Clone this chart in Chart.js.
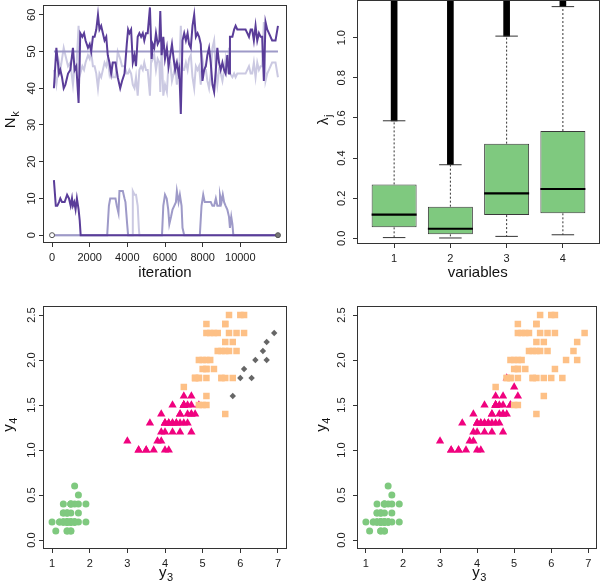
<!DOCTYPE html>
<html><head><meta charset="utf-8">
<script src="https://cdn.jsdelivr.net/npm/chart.js@4/dist/chart.umd.min.js"></script>
<style>
html,body{margin:0;padding:0;background:#fff;width:602px;height:585px;overflow:hidden;position:relative}
canvas{position:absolute}
</style></head><body>
<canvas id="c1" width="301" height="292" style="left:0;top:0"></canvas>
<canvas id="c2" width="301" height="292" style="left:301px;top:0"></canvas>
<canvas id="c3" width="301" height="293" style="left:0;top:292px"></canvas>
<canvas id="c4" width="301" height="293" style="left:301px;top:292px"></canvas>
<script>
// ---------- Panel 1: N_k traces ----------
const iterDark = [100,230,370,440,530,620,710,850,970,1110,1200,1290,1410,1500,1610,1700,1780,1910,2000,2080,2170,2260,2350,2440,2520,2610,2700,2790,2880,2960,3050,3140,3230,3370,3490,3620,3720,3850,3970,4040,4110,4200,4290,4380,4460,4550,4640,4730,4820,4900,4990,5080,5200,5290,5350,5430,5520,5610,5700,5750,5820,5910,6000,6100,6190,6280,6370,6460,6540,6630,6720,6760,6840,6930,7020,7110,7200,7280,7370,7460,7550,7640,7730,7810,7900,7990,8080,8170,8250,8340,8430,8520,8610,8700,8780,8870,8960,9050,9140,9220,9310,9400,9450,9580,9670,9750,9840,9930,10020,10110,10190,10280,10370,10460,10550,10630,10720,10810,10900,10990,11080,11160,11250,11340,11430,11520,11690,11780,11870,12000];
const nDark = [40,51,44,45,43,40,41,44,45,51,45,46,36,55,54,55,53,51,52,50,54,54,56,60,56,57,55,53,54,49,47,44,47,47,43,40,42,44,52,56,55,56,47,49,46,54,55,54,55,53,55,55,62,48,52,51,55,52,53,61,49,54,48,51,46,49,52,48,45,47,44,45,33,53,55,53,55,52,51,57,60,54,55,54,52,42,45,46,49,51,47,41,39,45,51,47,45,47,45,44,49,44,54,54,56,57,56,56,56,56,56,56,55,54,56,56,53,57,53,55,54,54,42,58,56,55,53,53,53,57];
const nLight = [45,41,47,45,48,51,49,46,47,41,46,45,57,44,46,45,47,49,48,50,46,46,44,40,44,43,45,47,46,48,44,46,43,43,50,48,46,46,44,44,45,44,41,40,43,38,45,46,45,47,45,45,38,52,48,49,45,48,47,39,51,38,41,39,47,47,42,44,46,41,47,45,57,45,45,47,45,48,49,43,40,46,45,46,41,48,45,45,42,40,44,51,53,45,41,45,44,42,45,48,44,51,44,43,44,43,44,44,44,44,44,44,45,46,44,44,47,43,47,45,46,46,58,42,44,45,47,47,47,43];
const iterFifty = [100,12000];
const nFifty = [50,50];
const iterDarkLow = [100,200,280,370,440,530,670,800,900,990,1060,1110,1180,1250,1320,1410,1470,1520,12000];
const nDarkLow = [15,8,8,9,10,9,9,11,10,8,10,8,9,7,10,7,4,0,0];
const iterMid = [100,2930,3020,3090,3230,3370,3440,3530,3580,3670,3760,3850,3900,3990,4040,5840,5910,6000,6090,6170,6230,6320,6400,6490,6580,6630,6720,6790,6880,6930,7020,7850,7940,8030,8110,8250,8430,8520,8610,8700,8780,8870,8920,9000,9070,9140,9220,9310,9400,9450,9520,9580,9630,12000];
const nMid = [0,0,8,10,10,10,8,6,12,12,12,10,9,3,0,0,8,11,10,7,3,5,7,8,9,12,9,11,8,2,0,0,8,11,9,9,9,8,8,10,8,8,11,9,11,9,8,7,5,2,5,3,0,0];
const iterLightBump = [100,4250,4290,4380,4460,4550,4610,4640,12000];
const nLightBump = [0,0,12,11,11,8,2,0,0];
const iterEnds = [0,12000];
const nEnds = [0,0];
const iterTicks = [0,2000,4000,6000,8000,10000];
const nkTicks = [0,10,20,30,40,50,60];

// ---------- Panel 2: boxplots of lambda_j ----------
const boxVars = [1,2,3,4];
const boxLo  = [0.004,0.002,0.010,0.018];
const boxQ1  = [0.055,0.020,0.116,0.125];
const boxMed = [0.118,0.048,0.224,0.246];
const boxQ3  = [0.269,0.158,0.472,0.535];
const boxHi  = [0.586,0.367,1.008,1.155];
const outHi  = [1.25,1.25,1.25,1.25];
const lamTicks = [0,0.2,0.4,0.6,0.8,1.0];
const lamTickLabels = ['0.0','0.2','0.4','0.6','0.8','1.0'];

// ---------- Panels 3/4: iris petal length (y3) vs width (y4) ----------
const setLen = [1.4,1.4,1.3,1.5,1.4,1.7,1.4,1.5,1.4,1.5,1.5,1.6,1.4,1.1,1.2,1.5,1.3,1.4,1.7,1.5,1.7,1.5,1.0,1.7,1.9,1.6,1.6,1.5,1.4,1.6,1.6,1.5,1.5,1.4,1.5,1.2,1.3,1.4,1.3,1.5,1.3,1.3,1.3,1.6,1.9,1.4,1.6,1.4,1.5,1.4];
const setWid = [0.2,0.2,0.2,0.2,0.2,0.4,0.3,0.2,0.2,0.1,0.2,0.2,0.1,0.1,0.2,0.4,0.4,0.3,0.3,0.3,0.2,0.4,0.2,0.5,0.2,0.2,0.4,0.2,0.2,0.2,0.2,0.4,0.1,0.2,0.2,0.2,0.2,0.1,0.2,0.2,0.3,0.3,0.2,0.6,0.4,0.3,0.2,0.2,0.2,0.2];
const versLen = [4.7,4.5,4.9,4.0,4.6,4.5,4.7,3.3,4.6,3.9,3.5,4.2,4.0,4.7,3.6,4.4,4.5,4.1,4.5,3.9,4.8,4.0,4.9,4.7,4.3,4.4,4.8,5.0,4.5,3.5,3.8,3.7,3.9,5.1,4.5,4.5,4.7,4.4,4.1,4.0,4.4,4.6,4.0,3.3,4.2,4.2,4.2,4.3,3.0,4.1];
const versWid = [1.4,1.5,1.5,1.3,1.5,1.3,1.6,1.0,1.3,1.4,1.0,1.5,1.0,1.4,1.3,1.4,1.5,1.0,1.5,1.1,1.8,1.3,1.5,1.2,1.3,1.4,1.4,1.7,1.5,1.0,1.1,1.0,1.2,1.6,1.5,1.6,1.5,1.3,1.3,1.3,1.2,1.4,1.2,1.0,1.3,1.2,1.3,1.3,1.1,1.3];
const virgLen = [6.0,5.1,5.9,5.6,5.8,6.6,4.5,6.3,5.8,6.1,5.1,5.3,5.5,5.0,5.1,5.3,5.5,6.7,6.9,5.0,5.7,4.9,6.7,4.9,5.7,6.0,4.8,4.9,5.6,5.8,6.1,6.4,5.6,5.1,5.6,6.1,5.6,5.5,4.8,5.4,5.6,5.1,5.1,5.9,5.7,5.2,5.0,5.2,5.4,5.1];
const virgWid = [2.5,1.9,2.1,1.8,2.2,2.1,1.7,1.8,1.8,2.5,2.0,1.9,2.1,2.0,2.4,2.3,1.8,2.2,2.3,1.5,2.3,2.0,2.0,1.8,2.1,1.8,1.8,1.8,2.1,1.6,1.9,2.0,2.2,1.5,1.4,2.3,2.4,1.8,1.8,2.1,2.4,2.3,1.9,2.3,2.5,2.3,1.9,2.0,2.3,1.8];
// left panel: estimated cluster allocation
const leftTriLen = [4.7,4.5,4.0,4.6,4.5,4.7,3.3,4.6,3.9,3.5,4.2,4.0,4.7,3.6,4.4,4.5,4.1,4.5,3.9,4.0,4.9,4.7,4.3,4.4,4.8,4.5,3.5,3.8,3.7,3.9,4.5,4.5,4.7,4.4,4.1,4.0,4.4,4.6,4.0,3.3,4.2,4.2,4.2,4.3,3.0,4.1];
const leftTriWid = [1.4,1.5,1.3,1.5,1.3,1.6,1.0,1.3,1.4,1.0,1.5,1.0,1.4,1.3,1.4,1.5,1.0,1.5,1.1,1.3,1.5,1.2,1.3,1.4,1.4,1.5,1.0,1.1,1.0,1.2,1.5,1.6,1.5,1.3,1.3,1.3,1.2,1.4,1.2,1.0,1.3,1.2,1.3,1.3,1.1,1.3];
const leftSqLen = [6.0,5.1,5.9,5.6,5.8,4.5,5.8,6.1,5.1,5.3,5.5,5.0,5.1,5.3,5.5,5.0,5.7,4.9,4.9,5.7,4.8,4.9,5.6,5.6,5.1,5.6,6.1,5.6,5.5,4.8,5.4,5.6,5.1,5.1,5.9,5.7,5.2,5.0,5.2,5.4,5.1,4.9,4.8,5.1];
const leftSqWid = [2.5,1.9,2.1,1.8,2.2,1.7,1.8,2.5,2.0,1.9,2.1,2.0,2.4,2.3,1.8,1.5,2.3,2.0,1.8,2.1,1.8,1.8,2.1,2.2,1.5,1.4,2.3,2.4,1.8,1.8,2.1,2.4,2.3,1.9,2.3,2.5,2.3,1.9,2.0,2.3,1.8,1.5,1.8,1.6];
const leftDiaLen = [6.6,6.3,6.7,6.9,6.7,6.0,5.8,6.1,6.4];
const leftDiaWid = [2.1,1.8,2.2,2.3,2.0,1.8,1.6,1.9,2.0];
const y3Ticks = [1,2,3,4,5,6,7];
const y4Ticks = [0,0.5,1,1.5,2,2.5];
const y4TickLabels = ['0.0','0.5','1.0','1.5','2.0','2.5'];

// ---------- styling ----------
const FONT = '"Liberation Sans", Arial, sans-serif';
const TICKFONT = '"Liberation Sans Narrow", "Liberation Sans", Arial, sans-serif';
const TICKSIZE = 11;
const colDark = '#5a3d99', colMid = '#9e9ac8', colLight = '#cbc9e2';
const cGreen = '#7fc97f', cPink = '#f0027f', cOrange = '#fdc086', cGray = '#666666';
Chart.defaults.font.family = FONT;

const xy = (xs, ys) => xs.map((x, i) => ({x: x, y: ys[i]}));

function drawTitle(ctx, t, x, y, rot) {
  ctx.save();
  ctx.translate(x, y); ctx.rotate(rot);
  const mf = '15px ' + FONT, sf = '11px ' + FONT;
  ctx.font = mf; const w1 = ctx.measureText(t.main).width;
  ctx.font = sf; const w2 = t.sub ? ctx.measureText(t.sub).width : 0;
  const s = -(w1 + w2) / 2;
  ctx.textAlign = 'left'; ctx.textBaseline = 'alphabetic';
  ctx.fillStyle = '#111';
  ctx.font = mf; ctx.fillText(t.main, s, 0);
  if (t.sub) { ctx.font = sf; ctx.fillText(t.sub, s + w1 + 0.5, t.subDy); }
  ctx.restore();
}

const rPlot = {
  id: 'rPlot',
  afterDraw(chart, args, o) {
    const ctx = chart.ctx, a = chart.chartArea, ys = chart.scales.y;
    ctx.save();
    ctx.strokeStyle = '#333'; ctx.lineWidth = 1;
    const L = Math.round(a.left), T = Math.round(a.top), R = Math.round(a.right), B = Math.round(a.bottom);
    ctx.strokeRect(L + 0.5, T + 0.5, R - L - 1, B - T - 1);
    ctx.fillStyle = '#1a1a1a';
    ctx.font = TICKSIZE + 'px ' + TICKFONT;
    ctx.textAlign = 'center'; ctx.textBaseline = 'middle';
    o.yTicks.forEach((v, i) => {
      const py = ys.getPixelForValue(v);
      ctx.save(); ctx.translate(o.yLabX, py); ctx.rotate(-Math.PI / 2);
      ctx.fillText(o.yLabels[i], 0, 0);
      ctx.restore();
    });
    ctx.restore();
    drawTitle(ctx, o.xTitle, o.xTitle.x, o.xTitle.y, 0);
    drawTitle(ctx, o.yTitle, o.yTitle.x, o.yTitle.y, -Math.PI / 2);
  }
};

function axes(c) {
  const grid = {display: true, drawOnChartArea: false, drawTicks: true, tickLength: 4, color: '#333', tickColor: '#333', lineWidth: 1, offset: false};
  return {
    x: {type: 'linear', min: c.xmin, max: c.xmax, offset: false,
        afterFit: s => { s.height = c.xh; },
        afterBuildTicks: s => { s.ticks = c.xt.map(v => ({value: v})); },
        grid: grid, border: {display: false},
        ticks: {autoSkip: false, maxRotation: 0, minRotation: 0, padding: c.xpad, color: '#1a1a1a',
                font: {family: TICKFONT, size: TICKSIZE},
                callback: (v, i) => c.xl[i]}},
    y: {type: 'linear', min: c.ymin, max: c.ymax, offset: false, beginAtZero: false,
        afterFit: s => { s.width = c.yw; },
        afterBuildTicks: s => { s.ticks = c.yt.map(v => ({value: v})); },
        grid: grid, border: {display: false},
        ticks: {display: false}}
  };
}

function baseOptions(c) {
  return {
    responsive: false, animation: false, devicePixelRatio: 1,
    layout: {padding: {top: c.pt, right: c.pr, left: 0, bottom: 0}},
    plugins: {legend: {display: false}, tooltip: {enabled: false},
              rPlot: {yTicks: c.yt, yLabels: c.yl, yLabX: c.yLabX, xTitle: c.xTitle, yTitle: c.yTitle}},
    scales: axes(c)
  };
}

// ---------- Panel 1 ----------
const o1 = baseOptions({xmin: -480, xmax: 12480, ymin: -2.13, ymax: 62.67, xh: 49, yw: 43, pt: 0, pr: 14,
  xt: iterTicks, xl: iterTicks.map(String), xpad: 4, yt: nkTicks, yl: nkTicks.map(String), yLabX: 31.7,
  xTitle: {main: 'iteration', x: 165, y: 277}, yTitle: {main: 'N', sub: 'k', subDy: 4, x: 15, y: 120}});
o1.elements = {line: {borderWidth: 2, tension: 0}, point: {radius: 0}};
new Chart(document.getElementById('c1'), {
  type: 'line',
  data: {datasets: [
    {data: xy(iterDark, nLight), borderColor: colLight, order: 7},
    {data: xy(iterLightBump, nLightBump), borderColor: colLight, order: 6},
    {data: xy(iterMid, nMid), borderColor: colMid, order: 5},
    {data: xy(iterFifty, nFifty), borderColor: colMid, order: 4},
    {data: xy(iterDark, nDark), borderColor: colDark, order: 3},
    {data: xy(iterDarkLow, nDarkLow), borderColor: colDark, order: 2},
    {type: 'scatter', data: xy(iterEnds, nEnds), showLine: false, pointRadius: 2.5, pointBorderWidth: 1,
     pointBackgroundColor: ['#ffffff', '#777777'], pointBorderColor: '#555', order: 1}
  ]},
  options: o1,
  plugins: [rPlot]
});

// ---------- Panel 2 ----------
const whisk = [], caps = [], meds = [];
boxVars.forEach((p, i) => {
  whisk.push({x: p, y: boxQ3[i]}, {x: p, y: boxHi[i]}, {x: p, y: null}, {x: p, y: boxQ1[i]}, {x: p, y: boxLo[i]}, {x: p, y: null});
  caps.push({x: p - 0.2, y: boxHi[i]}, {x: p + 0.2, y: boxHi[i]}, {x: p, y: null}, {x: p - 0.2, y: boxLo[i]}, {x: p + 0.2, y: boxLo[i]}, {x: p, y: null});
  meds.push({x: p - 0.4, y: boxMed[i]}, {x: p + 0.4, y: boxMed[i]}, {x: p, y: null});
});
const o2 = baseOptions({xmin: 0.34, xmax: 4.66, ymin: -0.028, ymax: 1.188, xh: 48, yw: 56, pt: 0, pr: 2,
  xt: boxVars, xl: boxVars.map(String), xpad: 4, yt: lamTicks, yl: lamTickLabels, yLabX: 40.7,
  xTitle: {main: 'variables', x: 176.7, y: 277}, yTitle: {main: 'λ', sub: 'j', subDy: 4, x: 27, y: 120}});
new Chart(document.getElementById('c2'), {
  type: 'bar',
  data: {datasets: [
    {type: 'bar', data: boxVars.map((p, i) => ({x: p, y: [boxQ1[i], boxQ3[i]]})), backgroundColor: cGreen,
     borderColor: '#3a3a3a', borderWidth: 1, borderSkipped: false, barPercentage: 0.8, categoryPercentage: 1, grouped: false, order: 5},
    {type: 'bar', data: boxVars.map((p, i) => ({x: p, y: [boxHi[i], outHi[i]]})), backgroundColor: '#000',
     barThickness: 6, grouped: false, order: 4},
    {type: 'line', data: whisk, borderColor: '#333', borderWidth: 1, borderDash: [2, 2], pointRadius: 0, spanGaps: false, order: 3},
    {type: 'line', data: caps, borderColor: '#333', borderWidth: 1, pointRadius: 0, spanGaps: false, order: 2},
    {type: 'line', data: meds, borderColor: '#000', borderWidth: 2.2, pointRadius: 0, spanGaps: false, order: 1}
  ]},
  options: o2,
  plugins: [rPlot]
});

// ---------- Panels 3 & 4 ----------
function scatterSet(xs, ys, style, r, col, ord) {
  return {data: xy(xs, ys), pointStyle: style, pointRadius: r, backgroundColor: col, borderColor: col, pointBorderWidth: 0, borderWidth: 0, order: ord};
}
const o3 = baseOptions({xmin: 0.76, xmax: 7.24, ymin: -0.1, ymax: 2.6, xh: 36, yw: 43, pt: 14, pr: 14,
  xt: y3Ticks, xl: y3Ticks.map(String), xpad: 4, yt: y4Ticks, yl: y4TickLabels, yLabX: 31.7,
  xTitle: {main: 'y', sub: '3', subDy: 4, x: 165.7, y: 285}, yTitle: {main: 'y', sub: '4', subDy: 4, x: 13, y: 133}});
new Chart(document.getElementById('c3'), {
  type: 'scatter',
  data: {datasets: [
    scatterSet(setLen, setWid, 'circle', 3.5, cGreen, 4),
    scatterSet(leftTriLen, leftTriWid, 'triangle', 4.8, cPink, 3),
    scatterSet(leftSqLen, leftSqWid, 'rect', 4.6, cOrange, 2),
    scatterSet(leftDiaLen, leftDiaWid, 'rectRot', 3.2, cGray, 1)
  ]},
  options: o3,
  plugins: [rPlot]
});
const o4 = baseOptions({xmin: 0.76, xmax: 7.24, ymin: -0.1, ymax: 2.6, xh: 36, yw: 56, pt: 14, pr: 2,
  xt: y3Ticks, xl: y3Ticks.map(String), xpad: 4, yt: y4Ticks, yl: y4TickLabels, yLabX: 40.7,
  xTitle: {main: 'y', sub: '3', subDy: 4, x: 178, y: 285}, yTitle: {main: 'y', sub: '4', subDy: 4, x: 25, y: 133}});
new Chart(document.getElementById('c4'), {
  type: 'scatter',
  data: {datasets: [
    scatterSet(setLen, setWid, 'circle', 3.5, cGreen, 3),
    scatterSet(versLen, versWid, 'triangle', 4.8, cPink, 2),
    scatterSet(virgLen, virgWid, 'rect', 4.6, cOrange, 1)
  ]},
  options: o4,
  plugins: [rPlot]
});
</script>
</body></html>
